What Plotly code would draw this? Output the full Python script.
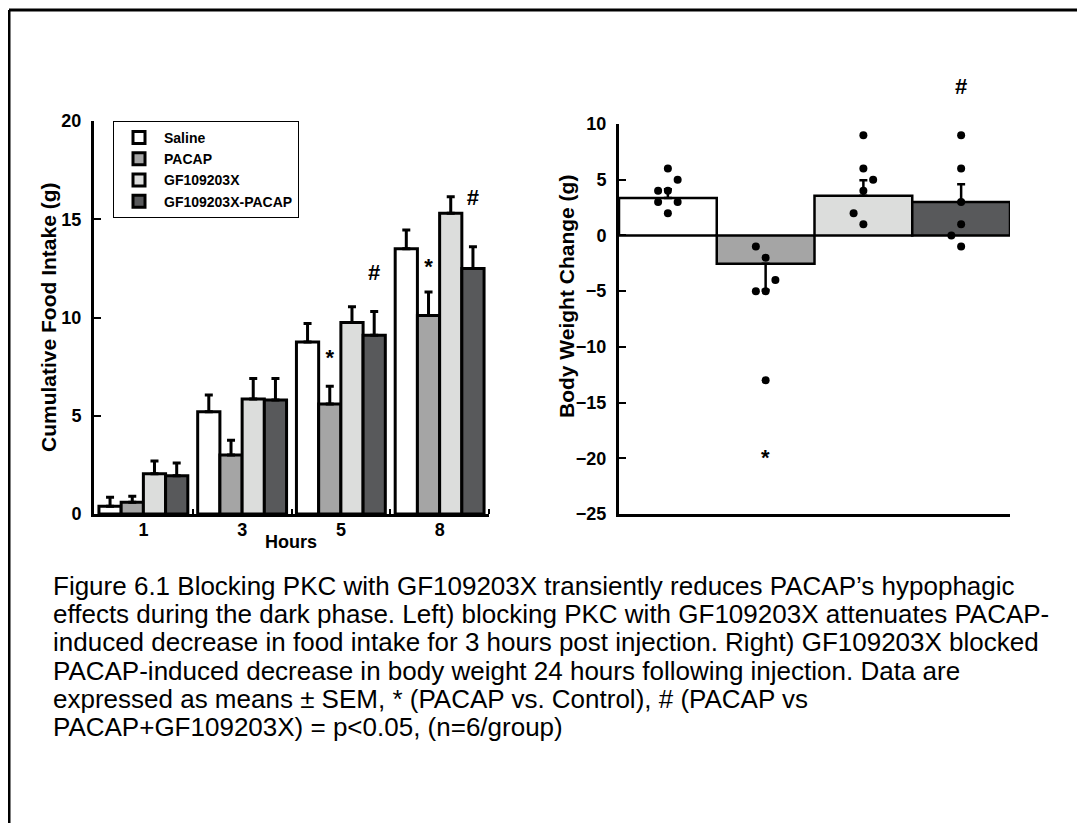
import plotly.graph_objects as go

# ---------------- data ----------------
hours = ["1", "3", "5", "8"]
groups = ["Saline", "PACAP", "GF109203X", "GF109203X-PACAP"]
colors = ["#ffffff", "#a5a5a5", "#dcdddc", "#58595b"]

intake_saline = [0.4, 5.2, 8.75, 13.5]
intake_pacap = [0.6, 3.0, 5.6, 10.1]
intake_gf = [2.05, 5.85, 9.75, 15.3]
intake_gfpacap = [1.95, 5.8, 9.1, 12.5]

sem_saline = [0.45, 0.85, 0.95, 0.95]
sem_pacap = [0.3, 0.75, 0.9, 1.2]
sem_gf = [0.65, 1.05, 0.8, 0.85]
sem_gfpacap = [0.65, 1.1, 1.2, 1.1]

# significance marks on left panel: (hour index, group index, y, text)
left_marks_hour = [2, 3, 2, 3]
left_marks_group = [1, 1, 3, 3]
left_marks_y = [7.85, 12.5, 12.2, 16.0]
left_marks_text = ["*", "*", "#", "#"]

# right panel
bw_range = [-25, 10]
bw_mean = [3.35, -2.55, 3.55, 3.0]
bw_sem_up = [0.8, 0.0, 1.4, 1.6]
bw_sem_down = [0.0, 2.35, 0.0, 0.0]

bw_saline_pts = [6, 5, 4, 4, 3, 3, 2]
bw_saline_jit = [0, 1, -1, 0, -1, 1, 0]
bw_pacap_pts = [-1, -2, -4, -5, -5, -13]
bw_pacap_jit = [-1, 0, 1, -1, 0, 0]
bw_gf_pts = [9, 6, 5, 4, 2, 1]
bw_gf_jit = [0, 0, 1, 0, -1, 0]
bw_gfpacap_pts = [9, 6, 3, 1, 0, -1]
bw_gfpacap_jit = [0, 0, 0, 0, -1, 0]

right_marks_group = [1, 3]
right_marks_y = [-19.9, 13.4]
right_marks_text = ["*", "#"]

caption_lines = [
    "Figure 6.1 Blocking PKC with GF109203X transiently reduces PACAP\u2019s hypophagic",
    "effects during the dark phase. Left) blocking PKC with GF109203X attenuates PACAP-",
    "induced decrease in food intake for 3 hours post injection. Right) GF109203X blocked",
    "PACAP-induced decrease in body weight 24 hours following injection. Data are",
    "expressed as means \u00b1 SEM, * (PACAP vs. Control), # (PACAP vs",
    "PACAP+GF109203X) = p<0.05, (n=6/group)",
]

# ---------------- layout helpers ----------------
W, H = 1085, 823
OFF = 8  # page offset of the figure in the browser
FONT = "Arial, Liberation Sans, sans-serif"


def px(x):
    return (x - OFF) / W


def py(y):
    return 1 - (y - OFF) / H


fig = go.Figure()

intake = [intake_saline, intake_pacap, intake_gf, intake_gfpacap]
sems = [sem_saline, sem_pacap, sem_gf, sem_gfpacap]
idx = list(range(len(hours)))

for g, name in enumerate(groups):
    fig.add_trace(go.Bar(
        x=idx, y=intake[g], name=name,
        marker=dict(color=colors[g], line=dict(color="black", width=3)),
        error_y=dict(type="data", array=sems[g], arrayminus=[0] * 4, symmetric=False,
                     color="black", thickness=3, width=4),
        xaxis="x", yaxis="y", showlegend=True,
    ))

bargap = 0.1
bw = (1 - bargap) / 4
mark_font = dict(family=FONT, size=22, color="black", weight="bold")
fig.add_trace(go.Scatter(
    x=[h - 0.5 + bargap / 2 + bw * (gi + 0.5) for h, gi in zip(left_marks_hour, left_marks_group)],
    y=left_marks_y, text=left_marks_text, mode="text", textposition="middle center",
    textfont=mark_font, cliponaxis=False, xaxis="x", yaxis="y", showlegend=False,
))

# right panel bars
ridx = list(range(len(groups)))
fig.add_trace(go.Bar(
    x=ridx, y=bw_mean, width=1,
    marker=dict(color=colors, line=dict(color="black", width=2.5)),
    error_y=dict(type="data", array=bw_sem_up, arrayminus=bw_sem_down, symmetric=False,
                 color="black", thickness=2.5, width=4),
    xaxis="x2", yaxis="y2", showlegend=False,
))

jit = 0.1
pts = [bw_saline_pts, bw_pacap_pts, bw_gf_pts, bw_gfpacap_pts]
jits = [bw_saline_jit, bw_pacap_jit, bw_gf_jit, bw_gfpacap_jit]
for g in range(4):
    fig.add_trace(go.Scatter(
        x=[g + j * jit for j in jits[g]], y=pts[g], mode="markers",
        marker=dict(color="black", size=8), xaxis="x2", yaxis="y2", showlegend=False,
    ))

# significance marks on right panel (the '#' lies above the axis range)
for gi, yv, t in zip(right_marks_group, right_marks_y, right_marks_text):
    frac = (yv - bw_range[0]) / (bw_range[1] - bw_range[0])
    fig.add_annotation(x=gi, y=frac, xref="x2", yref="y2 domain", text=t, showarrow=False,
                       xanchor="center", yanchor="middle", font=mark_font)

tickfont = dict(family=FONT, size=18, color="black", weight="bold")
axis_common = dict(showgrid=False, zeroline=False, showline=True, linecolor="black",
                   linewidth=3, tickfont=tickfont, automargin=False)

fig.update_layout(
    template="none",
    width=W, height=H,
    margin=dict(l=0, r=0, t=0, b=0, pad=0),
    paper_bgcolor="white", plot_bgcolor="white",
    barmode="group", bargap=bargap, bargroupgap=0,
    font=dict(family=FONT, color="black"),
    xaxis=dict(domain=[px(94), px(489)], range=[-0.5, 3.5], tickvals=idx, ticktext=hours,
               ticks="", anchor="y", ticklabelstandoff=-3,
               minor=dict(ticks="inside", tickvals=[0.5, 1.5, 2.5, 3.5], ticklen=5,
                          tickwidth=1.5, tickcolor="black"),
               **axis_common),
    yaxis=dict(domain=[py(514), py(121)], range=[0, 20], tickvals=[0, 5, 10, 15, 20],
               ticks="inside", ticklen=7, tickwidth=2, tickcolor="black",
               ticklabelstandoff=6, anchor="x", **axis_common),
    xaxis2=dict(domain=[px(619), px(1010)], range=[-0.5, 3.5], tickvals=[3.5],
                ticktext=[""], ticks="inside", ticklen=5, tickwidth=1.5, tickcolor="black",
                anchor="y2", **axis_common),
    yaxis2=dict(domain=[py(514), py(124)], range=bw_range,
                tickvals=[-25, -20, -15, -10, -5, 0, 5, 10],
                ticks="inside", ticklen=7, tickwidth=2, tickcolor="black",
                ticklabelstandoff=6, anchor="x2", **axis_common),
    legend=dict(x=px(113), y=py(121), xanchor="left", yanchor="top",
                bordercolor="black", borderwidth=1, bgcolor="white",
                font=dict(family=FONT, size=14, color="black", weight="bold"),
                tracegroupgap=0, itemwidth=40),
)

# axis titles
fig.add_annotation(x=px(48), y=py(317), xref="paper", yref="paper",
                   xanchor="center", yanchor="middle",
                   text="Cumulative Food Intake (g)", textangle=-90, showarrow=False,
                   font=dict(family=FONT, size=21, color="black", weight="bold"))
fig.add_annotation(x=px(291), y=py(542), xref="paper", yref="paper",
                   xanchor="center", yanchor="middle",
                   text="Hours", showarrow=False,
                   font=dict(family=FONT, size=18, color="black", weight="bold"))
fig.add_annotation(x=px(566), y=py(297), xref="paper", yref="paper",
                   xanchor="center", yanchor="middle",
                   text="Body Weight Change (g)", textangle=-90, showarrow=False,
                   font=dict(family=FONT, size=21, color="black", weight="bold"))

# caption, one annotation per line
for i, line in enumerate(caption_lines):
    fig.add_annotation(x=px(51), y=py(586 + 28.2 * i), xref="paper", yref="paper",
                       xanchor="left", yanchor="middle", align="left",
                       text=line, showarrow=False,
                       font=dict(family=FONT, size=26, color="black"))

# page frame
fig.add_shape(type="line", xref="paper", yref="paper", x0=px(9), x1=1, y0=py(10), y1=py(10),
              line=dict(color="black", width=3))
fig.add_shape(type="line", xref="paper", yref="paper", x0=px(9), x1=px(9), y0=py(10), y1=0,
              line=dict(color="black", width=3))

fig.write_html("out.html")
